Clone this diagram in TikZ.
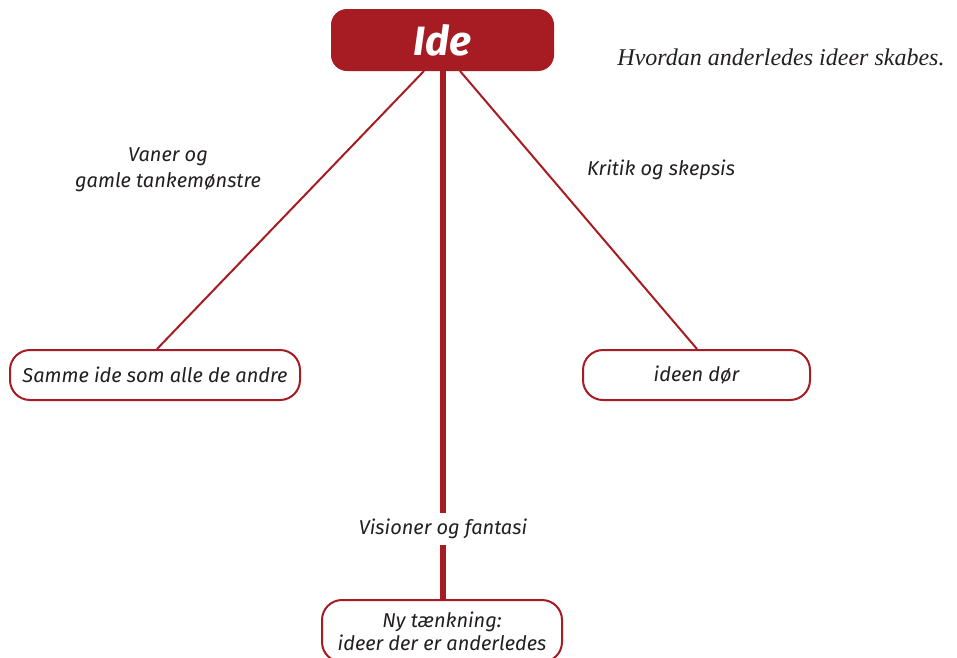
\documentclass[tikz,border=0pt]{standalone}
\usepackage{fontspec}
\setmainfont{Liberation Serif}
\newfontfamily\labelfont{Fira Sans}
\definecolor{idered}{HTML}{A61C22}
\definecolor{txt}{HTML}{231F20}
\tikzset{
  x=1pt, y=-1pt,
  outcome/.style={draw=idered, line width=2pt, rounded corners=20pt, fill=white, align=center,
    font=\labelfont\itshape\fontsize{20}{23}\selectfont, text=txt, inner sep=0pt},
  lbl/.style={align=center, font=\labelfont\itshape\fontsize{20}{26}\selectfont, text=txt},
  thin/.style={draw=idered, line width=2pt},
  thick/.style={draw=idered, line width=6pt},
}
\begin{document}
\begin{tikzpicture}
\useasboundingbox (0,0) rectangle (957,657);
\clip (0,0) rectangle (957,657);
\node[fill=idered, rounded corners=16pt, minimum width=223pt, minimum height=62pt, inner sep=0pt,
  text=white, font=\labelfont\bfseries\itshape\fontsize{41}{44}\selectfont] (ide) at (442.5,40) {Ide};
\node[outcome, minimum width=290pt, minimum height=50pt] (same) at (155,375) {Samme ide som alle de andre};
\node[outcome, minimum width=227pt, minimum height=50pt] (dies) at (696.5,375) {ideen dør};
\node[outcome, minimum width=240pt, minimum height=62pt] (new) at (442,631) {Ny tænkning:\\ideer der er anderledes};
\node[lbl] (l1) at (168,170) {Vaner og\\gamle tankemønstre};
\node[lbl] (l2) at (661,170) {Kritik og skepsis};
\node[lbl, minimum height=32pt] (l3) at (443,529) {Visioner og fantasi};
\node[font=\itshape\fontsize{24}{27}\selectfont, text=txt] (title) at (781,57) {Hvordan anderledes ideer skabes.};
\coordinate (a1) at (424,71);
\coordinate (a2) at (460,71);
\coordinate (m1) at (443,71);
\draw[thin] (a1) -- (same.north -| 157,0);
\draw[thin] (a2) -- (dies.north -| 697,0);
\draw[thick] (m1) -- (m1 |- l3.north);
\draw[thick] (m1 |- l3.south) -- (m1 |- new.north);
\end{tikzpicture}
\end{document}
